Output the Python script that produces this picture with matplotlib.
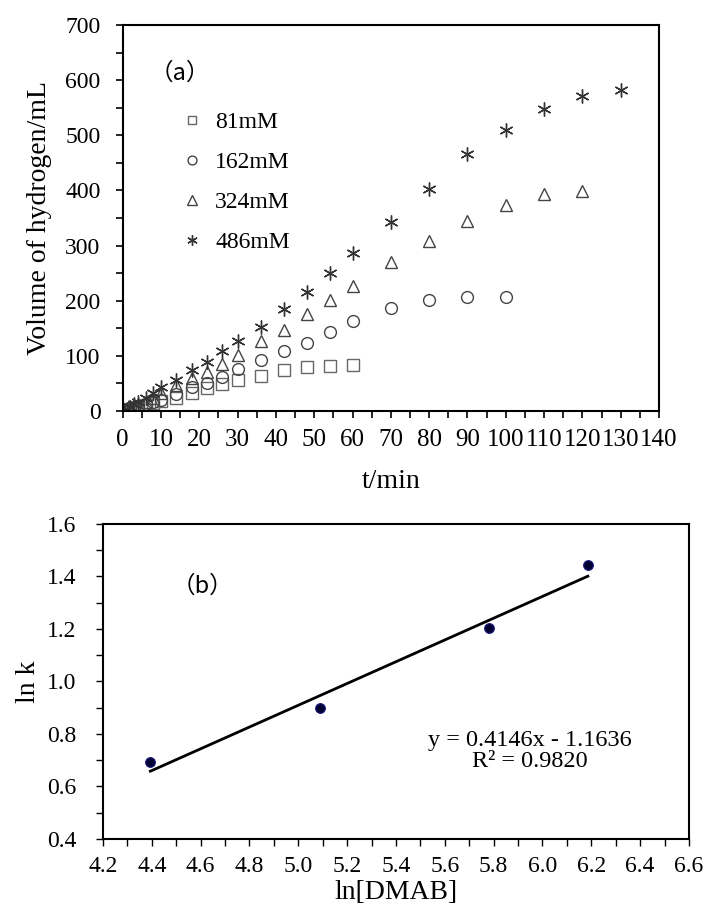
import numpy as np
import matplotlib.pyplot as plt
from matplotlib.ticker import MultipleLocator

plt.rcParams['font.family'] = ['Liberation Serif', 'DejaVu Serif']

# (a) hydrogen volume vs time
t_short = [0, 1, 2, 3, 4, 6, 8, 10, 14, 18, 22, 26, 30, 36, 42, 48, 54, 60]
v_81 = [0, 2, 4, 6, 8, 11, 14, 18, 24, 33, 42, 49, 56, 64, 75, 80, 82, 84]

t_162 = t_short + [70, 80, 90, 100]
v_162 = [0, 2, 5, 7, 9, 13, 16, 20, 30, 43, 50, 62, 77, 92, 108, 124, 144, 164,
         186, 201, 206, 207]

t_324 = t_short + [70, 80, 90, 100, 110, 120]
v_324 = [0, 3, 6, 9, 12, 17, 23, 32, 47, 59, 71, 85, 102, 126, 147, 176, 201, 226,
         270, 309, 344, 373, 394, 399]

t_486 = t_short + [70, 80, 90, 100, 110, 120, 130]
v_486 = [0, 4, 8, 12, 16, 24, 33, 43, 56, 74, 88, 108, 126, 153, 185, 216, 250, 286,
         342, 402, 466, 510, 548, 572, 583]

# (b) ln k vs ln[DMAB]
ln_dmab = [4.394, 5.088, 5.781, 6.186]
ln_k = [0.694, 0.900, 1.205, 1.444]
slope, intercept, r2 = 0.4146, -1.1636, 0.9820

fig = plt.figure(figsize=(7.03, 9.07), dpi=100)

# ---- panel (a)
ax1 = fig.add_axes([0.1745, 0.5469, 0.7629, 0.4255])
ax1.plot(t_short, v_81, 's', ms=8.5, mfc='none', mec='#666666', mew=1.0, label='81mM')
ax1.plot(t_162, v_162, 'o', ms=8.5, mfc='none', mec='#444444', mew=1.0, label='162mM')
ax1.plot(t_324, v_324, '^', ms=9, mfc='none', mec='#444444', mew=1.0, label='324mM')
ax1.plot(t_486, v_486, marker=(6, 2, 0), ls='none', ms=10, mec='#333333', mew=1.0,
         label='486mM')
ax1.set_xlim(0, 140)
ax1.set_ylim(0, 700)
ax1.xaxis.set_major_locator(MultipleLocator(10))
ax1.xaxis.set_minor_locator(MultipleLocator(5))
ax1.yaxis.set_major_locator(MultipleLocator(100))
ax1.yaxis.set_minor_locator(MultipleLocator(50))
ax1.tick_params(which='both', direction='out', labelsize=17, width=1.2, length=5)
ax1.tick_params(axis='x', pad=8, labelsize=18)
ax1.tick_params(axis='y', pad=11)
for s in ax1.spines.values():
    s.set_linewidth(1.5)

ax1.set_xlabel('t/min', fontsize=20)
ax1.xaxis.set_label_coords(0.5, -0.15)
ax1.set_ylabel('Volume of hydrogen/mL', fontsize=20)
ax1.yaxis.set_label_coords(-0.132, 0.5)

ax1.text(0.107, 0.876, '（a）', transform=ax1.transAxes, fontsize=17,
         family=['Noto Sans CJK SC', 'DejaVu Sans'], ha='center', va='center')
ax1.legend(loc='upper left', bbox_to_anchor=(0.089, 0.80), frameon=False,
           fontsize=17, handlelength=1.0, handletextpad=0.49, labelspacing=0.78,
           borderaxespad=0, markerscale=0.75)

# ---- panel (b)
ax2 = fig.add_axes([0.1465, 0.0750, 0.8335, 0.3473])
x_fit = np.array([min(ln_dmab), max(ln_dmab)])
ax2.plot(x_fit, slope * x_fit + intercept, color='black', lw=2)
ax2.plot(ln_dmab, ln_k, 'o', ms=7, color='#000033', mec='#1a1a80', mew=0.8)
ax2.set_xlim(4.2, 6.6)
ax2.set_ylim(0.4, 1.6)
ax2.xaxis.set_major_locator(MultipleLocator(0.2))
ax2.xaxis.set_minor_locator(MultipleLocator(0.1))
ax2.yaxis.set_major_locator(MultipleLocator(0.2))
ax2.yaxis.set_minor_locator(MultipleLocator(0.1))
ax2.xaxis.set_major_formatter(lambda v, p: f'{v:.1f}')
ax2.yaxis.set_major_formatter(lambda v, p: f'{v:.1f}')
ax2.tick_params(which='both', direction='out', labelsize=17, width=1.0, length=5)
ax2.tick_params(axis='x', pad=7)
ax2.tick_params(axis='y', pad=14)
for s in ax2.spines.values():
    s.set_linewidth(1.5)

ax2.set_xlabel('ln[DMAB]', fontsize=20)
ax2.xaxis.set_label_coords(0.5, -0.13)
ax2.set_ylabel('ln k', fontsize=20)
ax2.yaxis.set_label_coords(-0.105, 0.5)

ax2.text(0.169, 0.803, '（b）', transform=ax2.transAxes, fontsize=17,
         family=['Noto Sans CJK SC', 'DejaVu Sans'], ha='center', va='center')
ax2.text(0.729, 0.279, f'y = {slope:.4f}x - {abs(intercept):.4f}\nR² = {r2:.4f}',
         transform=ax2.transAxes, fontsize=17.5, ha='center', va='center',
         linespacing=1.0)

fig.savefig('out.png', dpi=100)
